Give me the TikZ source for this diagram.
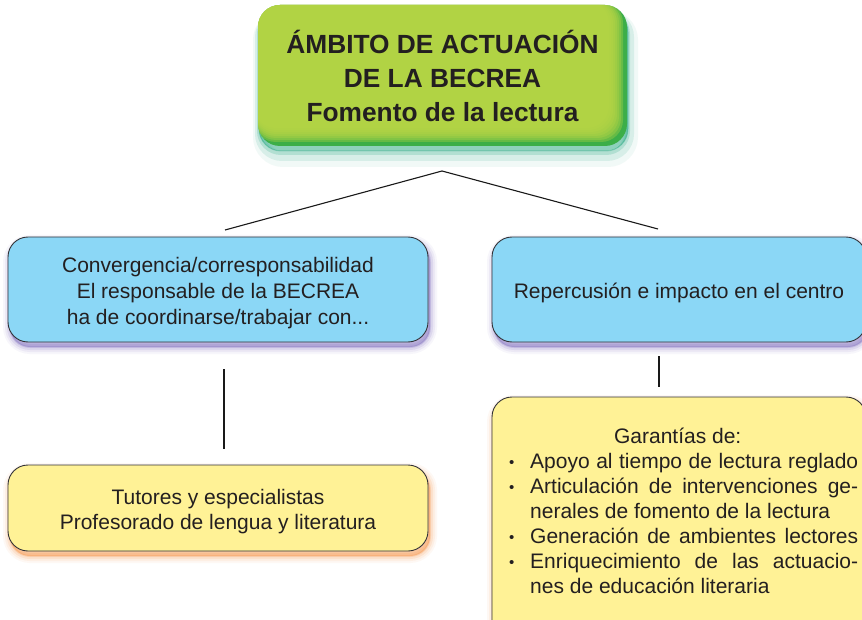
\documentclass[tikz,border=0pt]{standalone}
\usepackage{fontspec}
\setmainfont{Liberation Sans}
\definecolor{boxblue}{RGB}{139,215,246}
\definecolor{boxyellow}{RGB}{255,242,150}
\definecolor{greenA}{RGB}{182,213,68}
\definecolor{greenB}{RGB}{60,174,72}
\definecolor{txt}{RGB}{35,31,32}
\definecolor{shpurple}{RGB}{110,90,180}
\definecolor{shorange}{RGB}{245,135,50}
\definecolor{shteal}{RGB}{30,165,125}
\definecolor{edge}{RGB}{50,50,55}
\tikzset{
  softshadow/.style={
    preaction={draw=#1, line width=14pt, draw opacity=.05, transform canvas={shift={(2pt,-5pt)}}},
    preaction={draw=#1, line width=10pt, draw opacity=.08, transform canvas={shift={(2pt,-5pt)}}},
    preaction={draw=#1, line width=6pt, draw opacity=.12, transform canvas={shift={(2pt,-5pt)}}},
    preaction={draw=#1, line width=2pt, draw opacity=.2, fill=#1, fill opacity=.4, transform canvas={shift={(2pt,-5pt)}}}},
  bigshadow/.style={
    preaction={draw=#1, line width=16pt, draw opacity=.06, transform canvas={shift={(3pt,-13pt)}}},
    preaction={draw=#1, line width=10pt, draw opacity=.12, transform canvas={shift={(2pt,-10pt)}}},
    preaction={draw=#1, line width=4pt, draw opacity=.2, transform canvas={shift={(1pt,-7pt)}}},
    preaction={draw=#1, line width=1pt, draw opacity=.3, fill=#1, fill opacity=.5, transform canvas={shift={(1pt,-5pt)}}}},
  bluebox/.style={rectangle, rounded corners=20pt, draw=edge, line width=0.9pt, fill=boxblue,
    softshadow=shpurple, align=center, text=txt, font=\fontsize{21}{26}\selectfont},
  yellowbox/.style={rectangle, rounded corners=20pt, draw=edge, line width=0.9pt, fill=boxyellow,
    softshadow=shorange, align=center, text=txt, font=\fontsize{21}{25}\selectfont},
  titlebox/.style={rectangle, rounded corners=22pt, fill=greenB, bigshadow=shteal, align=center,
    text=txt, font=\bfseries\fontsize{26.3}{34}\selectfont,
    path picture={
      \foreach \k in {0,...,7}{
        \fill[greenA, fill opacity=.35, rounded corners=22pt]
          ([xshift=-4pt, yshift=4pt]path picture bounding box.north west) rectangle
          ([xshift={-(18-2*\k)*1pt}, yshift={(18-2*\k)*1pt}]path picture bounding box.south east);}
    }},
  link/.style={draw=black!90, line width=1.1pt},
}
\begin{document}
\begin{tikzpicture}[x=1pt, y=-1pt]
\path[use as bounding box] (0,0) rectangle (862,620);
\clip (0,0) rectangle (862,620);
\fill[white] (0,0) rectangle (862,620);

\node[titlebox, minimum width=369pt, minimum height=141pt] (top) at (442.5,75.5)
  {ÁMBITO DE ACTUACIÓN\\DE LA BECREA\\Fomento de la lectura};

\node[bluebox, minimum width=420pt, minimum height=105pt] (conv) at (218,289.5)
  {\rule{0pt}{23pt}Convergencia/corresponsabilidad\\El responsable de la BECREA\\ha de coordinarse/trabajar con...};
\node[bluebox, minimum width=374pt, minimum height=105pt] (rep) at (679,289.5)
  {\rule{0pt}{21.5pt}Repercusión e impacto en el centro};

\node[yellowbox, minimum width=420pt, minimum height=86pt] (tut) at (218,508)
  {\rule{0pt}{23pt}Tutores y especialistas\\Profesorado de lengua y literatura};
\node[yellowbox, minimum width=374pt, minimum height=243pt] (gar) at (679,518.5) {};
\node[anchor=north west, inner sep=0pt, align=left, text=txt, font=\fontsize{21}{25}\selectfont] (gartext) at (509,428)
  {\makebox[337pt][c]{Garantías de:}\\
   \makebox[21pt][l]{\raisebox{1.5pt}{\fontsize{15}{15}\selectfont •}}\makebox[328pt][s]{Apoyo al tiempo de lectura reglado}\\
   \makebox[21pt][l]{\raisebox{1.5pt}{\fontsize{15}{15}\selectfont •}}\makebox[328pt][s]{Articulación de intervenciones ge-}\\
   \makebox[21pt][l]{}\makebox[328pt][l]{nerales de fomento de la lectura}\\
   \makebox[21pt][l]{\raisebox{1.5pt}{\fontsize{15}{15}\selectfont •}}\makebox[328pt][s]{Generación de ambientes lectores}\\
   \makebox[21pt][l]{\raisebox{1.5pt}{\fontsize{15}{15}\selectfont •}}\makebox[328pt][s]{Enriquecimiento de las actuacio-}\\
   \makebox[21pt][l]{}\makebox[328pt][l]{nes de educación literaria}};

\coordinate (apex) at (442,171);
\coordinate (lend) at (225,230);
\coordinate (rend) at (658,229);
\coordinate (lv1) at (224,369);
\coordinate (lv2) at (224,449);
\coordinate (rv1) at (659,356);
\coordinate (rv2) at (659,387);
\draw[link] (lend) -- (apex) -- (rend);
\draw[link] (lv1) -- (lv2);
\draw[link] (rv1) -- (rv2);
\end{tikzpicture}
\end{document}
